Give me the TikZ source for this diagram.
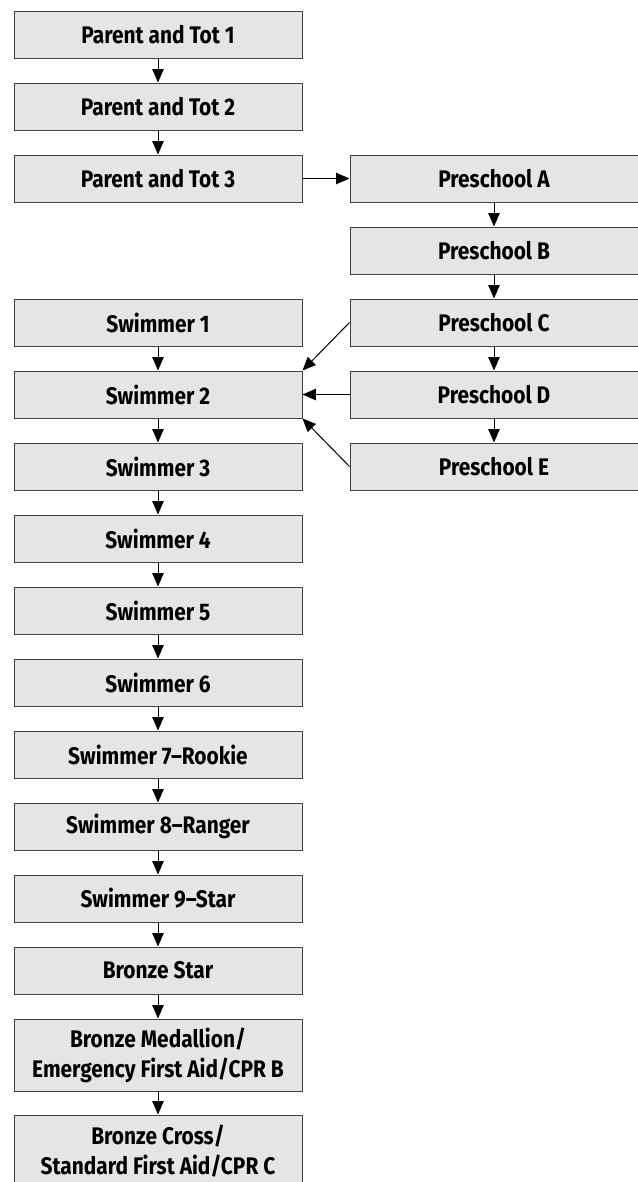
\documentclass[tikz,border=0pt]{standalone}
\usepackage{fontspec}
\setmainfont{Fira Sans}[FakeStretch=0.87]
\usetikzlibrary{arrows.meta}

\tikzset{
  level/.style={draw=black!75, line width=0.75pt, fill=black!10,
    minimum width=216pt, minimum height=35.25pt, inner sep=0pt,
    font=\bfseries\fontsize{18}{22.5}\selectfont, align=center},
  tall/.style={level, minimum height=54pt},
  link/.style={line width=0.75pt, -{Triangle[length=10pt,width=8.5pt]}}
}

\begin{document}
\begin{tikzpicture}[x=0.75pt, y=-0.75pt]
  \useasboundingbox (0,0) rectangle (637,1182);

  % parent and tot
  \node[level] (pt1) at (158, 34.5) {Parent and Tot 1};
  \node[level] (pt2) at (158, 106.5) {Parent and Tot 2};
  \node[level] (pt3) at (158, 178.5) {Parent and Tot 3};

  % preschool
  \node[level] (psA) at (494, 178.5) {Preschool A};
  \node[level] (psB) at (494, 250.5) {Preschool B};
  \node[level] (psC) at (494, 322.5) {Preschool C};
  \node[level] (psD) at (494, 394.5) {Preschool D};
  \node[level] (psE) at (494, 466.5) {Preschool E};

  % swimmer
  \node[level] (sw1) at (158, 322.5) {Swimmer 1};
  \node[level] (sw2) at (158, 394.5) {Swimmer 2};
  \node[level] (sw3) at (158, 466.5) {Swimmer 3};
  \node[level] (sw4) at (158, 538.5) {Swimmer 4};
  \node[level] (sw5) at (158, 610.5) {Swimmer 5};
  \node[level] (sw6) at (158, 682.5) {Swimmer 6};
  \node[level] (sw7) at (158, 754.5) {Swimmer 7--Rookie};
  \node[level] (sw8) at (158, 826.5) {Swimmer 8--Ranger};
  \node[level] (sw9) at (158, 898.5) {Swimmer 9--Star};

  % bronze
  \node[level] (bstar) at (158, 970.5) {Bronze Star};
  \node[tall] (bmed) at (158, 1055) {Bronze Medallion/\\Emergency First Aid/CPR B};
  \node[tall] (bcross) at (158, 1151) {Bronze Cross/\\Standard First Aid/CPR C};

  \foreach \a/\b in {pt1/pt2, pt2/pt3, psA/psB, psB/psC, psC/psD, psD/psE,
      sw1/sw2, sw2/sw3, sw3/sw4, sw4/sw5, sw5/sw6, sw6/sw7, sw7/sw8,
      sw8/sw9, sw9/bstar, bstar/bmed, bmed/bcross} {
    \draw[link] (\a.south) -- (\b.north);
  }

  \draw[link] (pt3.east) -- (psA.west);
  \draw[link] (psC.west) -- (sw2.north east);
  \draw[link] (psD.west) -- (sw2.east);
  \draw[link] (psE.west) -- (sw2.south east);

\end{tikzpicture}
\end{document}
